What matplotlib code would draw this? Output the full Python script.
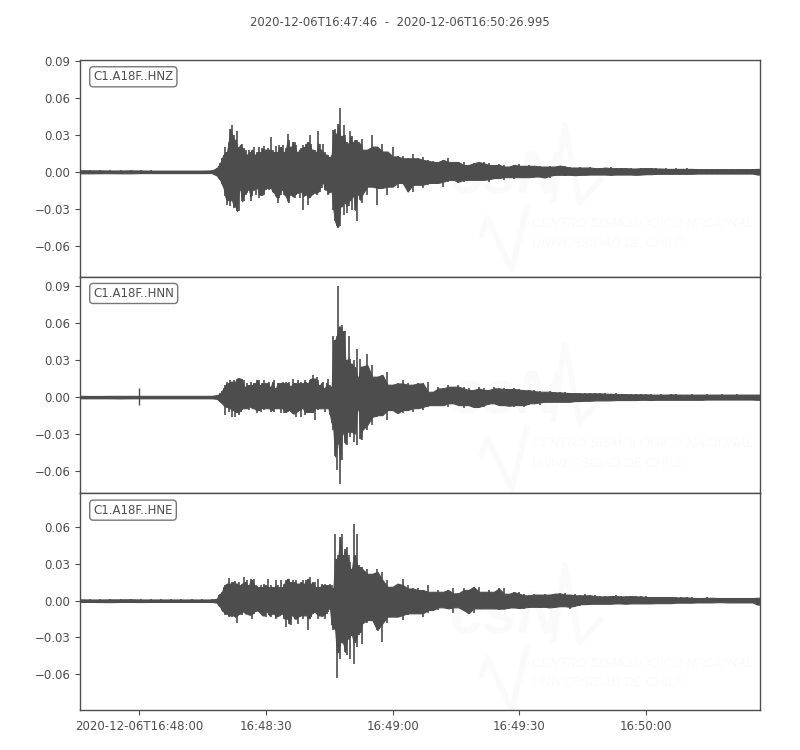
#Import modules
import numpy as np
import matplotlib.pyplot as plt

title = "2020-12-06T16:47:46  -  2020-12-06T16:50:26.995"
stations = ["C1.A18F..HNZ", "C1.A18F..HNN", "C1.A18F..HNE"]

# x axis, seconds after the start time
t_end = 160.995
x_ticks = [14, 44, 74, 104, 134]
x_labels = ["2020-12-06T16:48:00", "16:48:30", "16:49:00", "16:49:30", "16:50:00"]

# trace envelopes in units of 1e-3
# quiet part every 2.4 s, onset and strong motion every 0.4 s, coda every 1.2 s
z_quiet_up = [1.3, 1.5, 1.2, 1.4, 1.1, 1.5, 1.2, 1.1, 1.0, 1.0, 1.0, 1.0, 1.0, 1.2]
z_quiet_lo = [-1.3, -1.2, -1.4, -1.1, -1.5, -1.2, -1.3, -1.0, -1.0, -1.0, -1.2, -1.0, -1.0, -1.0]
z_up = [3, 5, 7, 11, 14, 20, 16, 24, 35, 38, 30, 26, 33, 20, 22, 23, 19, 18, 14, 18, 16, 18, 20, 14, 16, 20, 16, 19, 21,
        18, 19, 18, 28, 18, 16, 21, 16, 22, 20, 22, 16, 19, 31, 26, 20, 24, 24, 22, 16, 18, 19, 22, 20, 23, 24, 30, 23,
        18, 18, 16, 33, 23, 18, 23, 16, 14, 14, 12, 14, 34, 35, 31, 39, 52, 29, 38, 30, 24, 23, 33, 29, 24, 26, 26, 24, 23]
z_lo = [-3, -5, -6.5, -10, -13, -20, -27, -23, -28, -23, -29.5, -28, -32, -32, -14.5, -24, -24, -18.5, -17, -14.5, -24,
        -20, -14.5, -18.5, -13, -21, -18.5, -20, -18.5, -14.5, -13, -14.5, -13, -16, -17, -20, -25, -21, -18.5, -14.5,
        -18.5, -20, -24, -25, -18.5, -20, -21, -18.5, -17, -21, -16, -31, -20, -18.5, -27, -21, -20, -18.5, -17, -18.5,
        -17, -16, -13, -9, -14.5, -14.5, -18.5, -17, -16, -31, -40, -44, -45.6, -44, -28, -35, -25, -33.5, -28, -23, -31,
        -20, -31, -40, -18.5, -23]
z_coda_up = [27, 18, 30, 20.5, 23, 16.5, 20.5, 12.5, 12.5, 11, 14.5, 11, 12, 9.7, 9, 8, 9.7, 11, 8, 8, 8, 5.5, 7, 8, 8, 7,
             5.5, 6, 5.7, 4.3, 5.7, 6.5, 4.9, 5.7, 4.9, 5.1, 4.3, 5.1, 4.3, 5.1, 5.1, 4.3, 3.5, 4.3, 3.5, 4.3, 3.5, 3, 3.5,
             4.3, 3, 3, 3.5, 3, 2.7, 3, 3, 3.5, 3, 2.7, 3, 2.4, 3, 2.4, 3, 2.4, 2.4, 2.2, 2.4, 2.2, 2.2, 2.4, 2.2, 2.2, 2.2,
             2.4, 2.2, 2.2, 2.4]
z_coda_lo = [-25, -18.6, -12, -27, -13, -18.6, -12, -13, -9, -16, -16, -10.5, -13, -10.5, -9, -9, -12, -8, -6.5, -9, -8,
             -6.5, -6.5, -6.5, -6.5, -8, -6, -5, -6.5, -4.3, -5.9, -4.3, -5.1, -4.3, -5.4, -3.8, -4.6, -5.1, -3.2, -2.4,
             -3.2, -2.4, -2.7, -3.2, -2.4, -2.7, -2.2, -2.4, -2.2, -3, -2.4, -2.2, -2.4, -2.2, -2.7, -2.4, -2.2, -1.9, -2.2,
             -1.6, -1.9, -1.6, -1.9, -1.6, -2.2, -1.6, -1.6, -1.4, -1.6, -1.4, -1.9, -1.4, -1.6, -1.4, -1.6, -1.4, -1.6,
             -1.4, -2.2]

n_quiet_up = [1.0, 1.2, 0.9, 1.1, 1.0, 1.2, 1.0, 1.1, 1.0, 1.0, 1.2, 1.0, 1.0, 1.0]
n_quiet_lo = [-1.1, -1.0, -1.2, -1.0, -1.1, -1.2, -1.0, -1.0, -1.1, -1.0, -1.0, -1.2, -1.0, -1.0]
n_spike_t = 14.0
n_spike_lo = -6.0
n_spike_up = 7.5
n_up = [1.6, 2, 3, 5, 7, 9.7, 12.4, 11, 13.8, 12.4, 14, 12.4, 15, 15.7, 15, 15, 13.8, 8.4, 11, 9.7, 12.4, 9.7, 11, 11,
        13.8, 13.8, 9.7, 11, 13.8, 11, 11, 12.4, 8.4, 12.4, 13.8, 7, 11, 11, 11.5, 12.4, 11, 12.4, 11, 12.4, 9, 15, 11, 11,
        13.8, 11, 12.4, 11, 13.8, 12.4, 11, 13.8, 15, 17.8, 15, 16.5, 13.8, 9.7, 11, 12.4, 7, 11, 15, 9.7, 8.4, 49, 46, 49,
        90, 57, 58, 53, 53, 30, 49, 31, 27, 30, 24, 39, 16.5, 31]
n_lo = [-1.4, -2.5, -3.8, -5, -6.5, -14.6, -7.8, -12, -9, -16, -10.5, -16, -12, -14.6, -12, -10.5, -9, -9, -9, -10.5, -7.8,
        -9, -9, -10, -13.2, -10.5, -12, -9, -10.5, -9, -9, -9, -12, -10.5, -12, -9, -9, -9, -13.2, -9, -13.2, -12, -12, -10.5,
        -12, -13.2, -13.2, -16, -12, -10.5, -16, -9, -14.6, -12, -13.2, -12, -13.2, -12, -18.6, -9, -10.5, -9, -9, -9, -12,
        -9, -9, -14.6, -21, -26.7, -48, -59, -37.5, -70, -51, -29.4, -37.5, -39, -28, -32, -28, -36, -29.4, -39, -10.5, -33.5]
n_coda_up = [24.6, 35, 26, 16.5, 18, 20.5, 10, 11, 13.8, 11, 10, 11, 11, 12.4, 4.3, 8.4, 7, 10, 8.4, 10, 8.4, 7, 5.7, 8.4, 7,
             5.7, 8.4, 7, 7.5, 6.5, 7, 6.5, 6, 5.5, 5.5, 4.8, 4.3, 5, 4.3, 3.8, 4.3, 3.5, 3.2, 3.5, 3, 3.2, 3, 3.2, 3, 2.7, 3,
             2.4, 2.7, 2.4, 2.2, 2.4, 2.2, 2.7, 2, 2.2, 2, 2.2, 2.4, 2, 2, 2.2, 2, 2, 2.2, 2, 2, 2.2, 2, 2, 2.2, 2, 2, 2, 2]
n_coda_lo = [-35, -26.7, -22.7, -16, -14.6, -18.6, -10.5, -13, -13, -10.5, -12, -9, -10.5, -8, -6.5, -6.5, -6.5, -8, -5, -6.5,
             -9, -6.5, -8, -9, -8, -6.5, -5, -6.5, -6.5, -7, -8, -6.5, -8, -6.5, -5, -6, -4.3, -3.8, -4.3, -3.8, -4.3, -3.8,
             -3.8, -3.2, -3.5, -3, -3.2, -2.7, -3, -2.7, -3, -2.4, -2.7, -2.4, -2.7, -2.4, -2.2, -2.7, -2.4, -2.2, -2.4, -2.2,
             -2.4, -2.2, -2.2, -2.4, -2.2, -2.2, -2.7, -2, -2.2, -2, -2.2, -2, -2, -2.2, -2, -2, -2.2]

e_quiet_up = [1.1, 1.2, 1.0, 1.3, 1.1, 1.4, 1.2, 1.0, 1.2, 1.0, 1.0, 1.0, 1.0, 1.0]
e_quiet_lo = [-1.2, -1.0, -1.1, -1.2, -1.4, -1.0, -1.2, -1.1, -1.0, -1.2, -1.0, -1.0, -1.0, -1.0]
e_up = [1.6, 4.4, 5.7, 7, 11, 13, 14, 18.5, 14, 15, 15, 16, 14, 15, 12.5, 14, 19, 15, 16.6, 12.5, 18, 16.6, 18, 12.5, 12, 11,
        12.5, 11, 14, 12.5, 17.4, 11, 12.5, 11, 11, 16.6, 12.5, 11, 16.6, 11, 14, 16.6, 18, 18, 15, 16.6, 15, 16.6, 14, 14, 15,
        16.6, 14, 16.6, 18, 19, 14, 15, 15, 11, 18, 11, 14, 12.5, 14, 12.5, 12.5, 14, 12.5, 10, 54.7, 34, 37, 52, 54.7, 37,
        42.4, 44, 37, 31.5, 26, 63, 37, 54.7, 29, 27.5]
e_lo = [-1.6, -3.8, -5, -8, -9, -12, -10.6, -13.3, -12, -13.3, -12, -13.3, -18, -12, -10.6, -11.4, -9, -10.6, -10.6, -12, -11.4,
        -14.7, -10.6, -9, -8, -9, -10.6, -12, -12, -13.3, -9, -12, -13.3, -10.6, -10.6, -14.7, -13.3, -12, -12, -10.6, -14.7,
        -21.5, -14.7, -18.8, -20, -12, -14.7, -14.7, -18.8, -13.3, -12, -14.7, -12, -12, -24, -14.7, -13.3, -10.6, -9, -10.6,
        -14.7, -12, -13.3, -12, -14.7, -10.6, -9, -6.5, -20, -24, -22.8, -63.6, -42, -47.6, -33.7, -35.4, -42, -44.6, -31, -47.6,
        -28, -51.4, -33.7, -37.8, -28, -25.6]
e_coda_up = [27.7, 26, 22, 26, 23.7, 17, 11.4, 14, 18, 12.8, 10, 10, 8.7, 12.8, 7.3, 8.7, 7.3, 8.7, 10, 6, 10, 8.7, 11.4, 11.4, 7.3,
             8.7, 7.3, 10, 10, 5.7, 7, 7, 5.7, 4.4, 5.7, 5, 5.7, 5, 5.7, 6, 6.5, 5, 5.7, 4.4, 5.7, 4.4, 4.4, 3.8, 3.5, 3.8, 4.4,
             3.8, 3.5, 3.8, 4, 3.5, 3.5, 3, 3.2, 3, 3.2, 3, 3, 2.7, 3, 2.7, 2.4, 2.2, 2.7, 2.4, 2.4, 2.2, 2.2, 2.4, 2.2, 2.4,
             2.2, 2.2, 2.4]
e_coda_lo = [-35, -18.5, -15.8, -24, -33.5, -18.5, -13, -13, -15.8, -11.7, -10.3, -10.3, -13, -10.3, -7.6, -7.6, -5.4, -6.3, -10.3,
             -5.4, -7.6, -10.3, -10.3, -6.3, -6.3, -6.3, -6.3, -7.6, -6.5, -6.5, -5.5, -6, -6.5, -5.5, -5, -6, -5, -5.5, -6,
             -5, -4.5, -6.5, -5, -4, -2.8, -3.2, -2.5, -3, -2.5, -2.7, -2.5, -2.2, -2.7, -2.5, -2.2, -2.5, -2.2, -2.2, -2.5,
             -2, -2.2, -2, -2.2, -1.6, -1.9, -1.6, -1.9, -1.4, -1.6, -1.4, -1.6, -1.2, -1.4, -1.4, -1.6, -1.4, -1.6, -1.4, -3.2]

# y ticks and limits of each panel
y_ticks = [[-0.06, -0.03, 0.0, 0.03, 0.06, 0.09],
           [-0.06, -0.03, 0.0, 0.03, 0.06, 0.09],
           [-0.06, -0.03, 0.0, 0.03, 0.06]]
y_limits = [(-0.0851, 0.0908), (-0.0778, 0.0973), (-0.0894, 0.0878)]

# faint logo behind the traces, in axes fractions
logo_top_x = [0.696, 0.713, 0.735, 0.765]
logo_top_y = [0.355, 0.70, 0.341, 0.447]
logo_low_x = [0.591, 0.599, 0.635, 0.657]
logo_low_y = [0.194, 0.272, 0.032, 0.318]

grey = '#4d4d4d'
faint = '#fafafa'


def joinTraces(quiet, active, coda):
    t_quiet = 2.4 * np.arange(len(quiet))
    t_active = 32.4 + 0.4 * np.arange(len(active))
    t_coda = 66.8 + 1.2 * np.arange(len(coda))
    t = np.concatenate([t_quiet, t_active, t_coda])
    y = np.concatenate([quiet, active, coda]) * 1e-3
    keep = t <= t_end
    return np.append(t[keep], t_end), np.append(y[keep], y[keep][-1])


def drawSide(ax, t, y):
    # sticks up to each value, solid body up to the smaller of it and the next one
    a = np.abs(y)
    body = np.minimum(a, np.append(a[1:], a[-1]))
    ax.fill_between(t, 0, np.sign(y) * body, color=grey, lw=0.8, zorder=2)
    ax.vlines(t, 0, y, color=grey, lw=1.2, zorder=2)


traces = [(z_quiet_up, z_up, z_coda_up, z_quiet_lo, z_lo, z_coda_lo),
          (n_quiet_up, n_up, n_coda_up, n_quiet_lo, n_lo, n_coda_lo),
          (e_quiet_up, e_up, e_coda_up, e_quiet_lo, e_lo, e_coda_lo)]

plt.rcParams['font.family'] = ['DejaVu Sans']
fig, axes = plt.subplots(3, 1, figsize=(8, 7.5), dpi=100, sharex=True)
fig.subplots_adjust(left=0.1, right=0.95, top=0.92, bottom=0.0533, hspace=0)
fig.text(0.5, 0.9695, title, ha='center', va='center', fontsize=8.4, color=grey)

for i, ax in enumerate(axes):
    q_up, a_up, c_up, q_lo, a_lo, c_lo = traces[i]
    dy = -0.015 * i

    # watermark first so it stays under the trace
    ax.text(0.625, 0.33 + dy, "csN", transform=ax.transAxes, fontsize=44, style='italic', weight='bold',
            family=['Liberation Sans'], color=faint, ha='center', va='bottom', zorder=0)
    ax.plot(logo_top_x, np.array(logo_top_y) + dy, color=faint, lw=4, transform=ax.transAxes, zorder=0)
    ax.plot(logo_low_x, np.array(logo_low_y) + dy, color=faint, lw=4, transform=ax.transAxes, zorder=0)
    ax.text(0.664, 0.215 + dy, "CENTRO SISMOLÓGICO NACIONAL", transform=ax.transAxes, fontsize=9.4,
            style='italic', family=['Liberation Sans'], color=faint, va='bottom', zorder=0)
    ax.text(0.664, 0.125 + dy, "UNIVERSIDAD DE CHILE", transform=ax.transAxes, fontsize=9.4,
            style='italic', family=['Liberation Sans'], color=faint, va='bottom', zorder=0)

    t, y = joinTraces(q_up, a_up, c_up)
    drawSide(ax, t, y)
    t, y = joinTraces(q_lo, a_lo, c_lo)
    drawSide(ax, t, y)
    if i == 1:
        ax.vlines(n_spike_t, n_spike_lo * 1e-3, n_spike_up * 1e-3, color=grey, lw=1, zorder=2)

    ax.text(0.0195, 0.9225, stations[i], transform=ax.transAxes, fontsize=8.5, color=grey, ha='left', va='center',
            bbox=dict(boxstyle='round,pad=0.3', fc='white', ec='#777777', lw=1))

    ax.set_xlim(0, t_end)
    ax.set_ylim(y_limits[i])
    ax.set_yticks(y_ticks[i])
    ax.set_yticklabels([f"{v:.2f}".replace('-', '\u2212') for v in y_ticks[i]])
    ax.tick_params(axis='both', colors=grey, labelsize=8.5, length=3.5, width=0.8)
    for spine in ax.spines.values():
        spine.set_color(grey)
        spine.set_linewidth(1)
    if i < 2:
        ax.tick_params(axis='x', bottom=False, labelbottom=False)

axes[2].set_xticks(x_ticks)
axes[2].set_xticklabels(x_labels)

plt.savefig('out.png', dpi=100)
